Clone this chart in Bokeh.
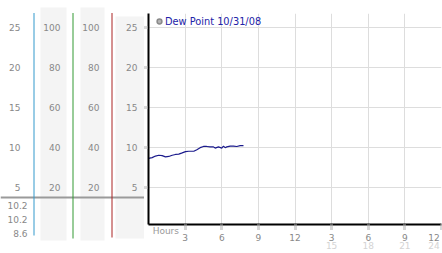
from bokeh.plotting import figure
from bokeh.models import (Range1d, LinearAxis, FixedTicker, Legend, LegendItem,
                          ColumnDataSource)
from bokeh.layouts import row
from bokeh.embed import file_html
from bokeh.resources import INLINE
from bokeh.core.properties import value

# ---------------- data ----------------
hours = [0.0, 0.3, 0.57, 0.84, 1.12, 1.39, 1.66, 1.94, 2.21, 2.48, 2.76, 3.03,
         3.3, 3.71, 3.96, 4.23, 4.5, 4.77, 5.05, 5.32, 5.46, 5.73, 6.0, 6.14,
         6.28, 6.41, 6.69, 6.96, 7.23, 7.51, 7.78]
dew_point = [8.6, 8.7, 8.9, 9.0, 8.95, 8.8, 8.85, 9.0, 9.1, 9.15, 9.3, 9.45,
             9.5, 9.5, 9.7, 9.95, 10.1, 10.1, 10.05, 10.05, 9.9, 10.05, 9.9, 10.15,
             9.95, 10.05, 10.15, 10.15, 10.1, 10.2, 10.2]
series_label = "Dew Point 10/31/08"
temp_ticks = [5, 10, 15, 20, 25]
pct_ticks = [20, 40, 60, 80, 100]
hour_ticks = [3, 6, 9, 12, 15, 18, 21, 24]
hour_tick_labels = ["3", "6", "9", "12", "3", "6", "9", "12"]
day2_ticks = [15, 18, 21, 24]
day2_labels = ["15", "18", "21", "24"]
x_title = "Hours"
readouts = [dew_point[-1], max(dew_point), min(dew_point)]  # current, max, min

# ---------------- layout / style ----------------
FONT = "DejaVu Sans"
FS = "9px"
LABEL_GRAY = "#888888"
Y_MIN, Y_MAX = 0.33, 26.75
TOP = 13
FRAME_H = 211
PX_PER = FRAME_H / (Y_MAX - Y_MIN)
LEFT_W = 144
H = 253
TITLE_POS = 1.42          # hour position where the "Hours" caption is centred
NBSP = "\u00a0"


def v_at(py):
    """value whose pixel row is py (shared vertical mapping)"""
    return Y_MAX - (py - TOP) / PX_PER


def no_align(fig):
    try:
        fig.frame_align = False
    except AttributeError:
        pass


# ---------------- left scale panel ----------------
left = figure(width=LEFT_W, height=H, x_range=Range1d(0, LEFT_W),
              y_range=Range1d(v_at(H), v_at(0)), output_backend="svg",
              toolbar_location=None, min_border=0, x_axis_location=None,
              y_axis_location=None, outline_line_color=None)
left.grid.visible = False
no_align(left)

left.quad(left=[40, 80, 115], right=[66, 104, LEFT_W],
          top=[v_at(7), v_at(7), v_at(16)], bottom=[v_at(240), v_at(240), v_at(238)],
          fill_color="#f4f4f4", line_color=None)
left.segment(x0=[0], y0=[v_at(197)], x1=[LEFT_W], y1=[v_at(197)],
             line_color="#9a9a9a", line_width=2)
left.segment(x0=[33.5, 72.5, 111.5], y0=[v_at(12.5)] * 3,
             x1=[33.5, 72.5, 111.5], y1=[v_at(235), v_at(238), v_at(237)],
             line_color=["#3399cc", "#339933", "#aa2222"], line_width=1)

col_specs = [(20, temp_ticks), (60, pct_ticks), (99, pct_ticks), (137, temp_ticks)]
for xr, labs in col_specs:
    src = ColumnDataSource(dict(y=temp_ticks, t=[str(v) for v in labs]))
    left.text(x=xr, y="y", text="t", source=src, text_align="right",
              text_baseline="middle", text_font=value(FONT), text_font_size=FS,
              text_color=LABEL_GRAY)

rsrc = ColumnDataSource(dict(y=[v_at(204.5), v_at(219), v_at(232.5)],
                             t=[f"{v:.1f}" for v in readouts]))
left.text(x=27, y="y", text="t", source=rsrc, text_align="right",
          text_baseline="middle", text_font=value(FONT), text_font_size=FS,
          text_color=LABEL_GRAY)

# ---------------- main chart ----------------
main = figure(width=442 - LEFT_W, height=H, x_range=Range1d(0, 24),
              y_range=Range1d(Y_MIN, Y_MAX), output_backend="svg",
              toolbar_location=None, min_border_left=0, min_border_right=1,
              min_border_top=TOP, min_border_bottom=H - TOP - FRAME_H,
              outline_line_color=None)
no_align(main)

yax = main.yaxis[0]
yax.ticker = FixedTicker(ticks=temp_ticks)
yax.axis_line_color = "black"
yax.axis_line_width = 2
yax.major_tick_out = 4
yax.major_tick_in = 0
yax.major_tick_line_color = "#b0b0b0"
yax.major_tick_line_width = 3
yax.major_tick_line_dash = "1 1"
yax.minor_tick_line_color = None
yax.major_label_text_font_size = "0px"
yax.major_label_text_color = None
yax.major_label_standoff = 0

# inner x axis: axis line, checkered tick marks (as minor ticks) and the caption
xa = main.xaxis[0]
xa.ticker = FixedTicker(ticks=[TITLE_POS], minor_ticks=hour_ticks)
xa.major_label_overrides = {TITLE_POS: x_title}
xa.axis_line_color = "black"
xa.axis_line_width = 2
xa.major_tick_out = 0
xa.major_tick_in = 0
xa.major_tick_line_color = None
xa.minor_tick_out = 5
xa.minor_tick_in = 0
xa.minor_tick_line_color = "#b0b0b0"
xa.minor_tick_line_width = 3
xa.minor_tick_line_dash = "1 1"
xa.major_label_standoff = -4
xa.major_label_text_font = FONT
xa.major_label_text_font_size = FS
xa.major_label_text_color = "#9a9a9a"

# first row of hour labels
lab = dict(zip(hour_ticks, hour_tick_labels))
lab[hour_ticks[-1]] = lab[hour_ticks[-1]] + NBSP
xb = LinearAxis(ticker=FixedTicker(ticks=hour_ticks), major_label_overrides=lab,
                axis_line_color=None, major_tick_line_color=None,
                minor_tick_line_color=None, major_tick_out=0, major_tick_in=0,
                minor_tick_out=0, minor_tick_in=0,
                major_label_standoff=-6, major_label_text_font=FONT,
                major_label_text_font_size=FS, major_label_text_color=LABEL_GRAY)
main.add_layout(xb, "below")

# second row (clock hours of the second half)
lab2 = dict(zip(day2_ticks, day2_labels))
lab2[day2_ticks[-1]] = lab2[day2_ticks[-1]] + NBSP
xc = LinearAxis(ticker=FixedTicker(ticks=day2_ticks), major_label_overrides=lab2,
                axis_line_color=None, major_tick_line_color=None,
                minor_tick_line_color=None, major_tick_out=0, major_tick_in=0,
                minor_tick_out=0, minor_tick_in=0,
                major_label_standoff=-5, major_label_text_font=FONT,
                major_label_text_font_size=FS, major_label_text_color="#d4d4d4")
main.add_layout(xc, "below")

main.xgrid[0].axis = xb
main.xgrid.grid_line_color = "#dddddd"
main.ygrid.grid_line_color = "#dddddd"

main.line(hours, dew_point, line_color="#1a1a8c", line_width=1.2)

marker = main.scatter(x=[float("nan")], y=[float("nan")], marker="circle", size=7,
                      fill_color="#b4b4b4", line_color="#8a8a8a", line_width=1.5)
legend = Legend(items=[LegendItem(label=series_label, renderers=[marker])],
                location=(5, 195), margin=0, padding=0, spacing=0,
                glyph_width=12, glyph_height=16, label_standoff=0,
                label_text_font=FONT, label_text_font_size="9.8px",
                label_text_color="#2222a8", border_line_color=None,
                background_fill_alpha=0)
main.add_layout(legend)

layout = row(left, main)
open("out.html", "w").write(file_html(layout, INLINE))
